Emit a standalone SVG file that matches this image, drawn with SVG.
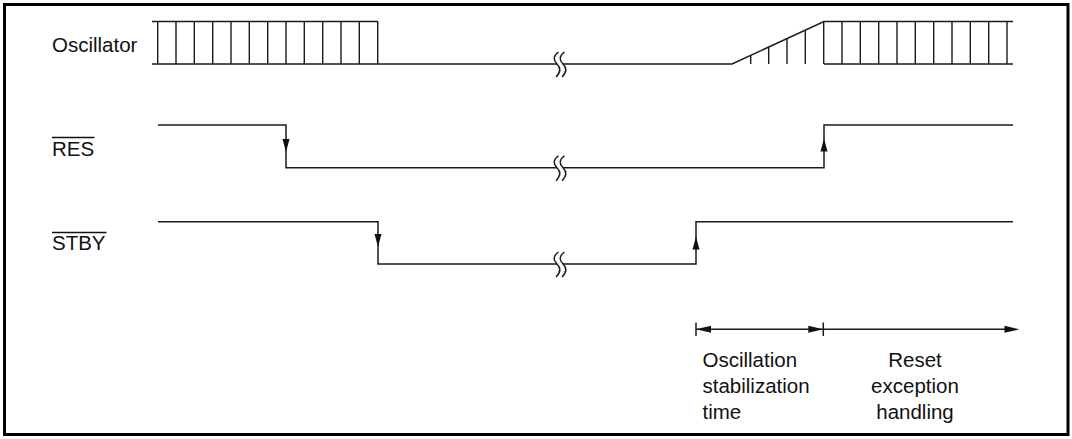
<svg xmlns="http://www.w3.org/2000/svg" width="1072" height="439" viewBox="0 0 1072 439">
<style>
.s{fill:none;stroke:#1a1a1a;stroke-width:1.5}
.v{fill:none;stroke:#1a1a1a;stroke-width:1.4}
.t{font-family:"Liberation Sans",Arial,sans-serif;font-size:20.5px;fill:#111}
.ah{fill:#111;stroke:none}
</style>
<defs>
<path id="sq" d="M 558.5,52 C 553,56 553,60 557,64 C 561,68 561,72 556,77" fill="none" stroke="#1a1a1a" stroke-width="1.4"/>
<path id="dn" d="M 0,0 L -3.5,-13 L 3.5,-13 Z"/>
</defs>
<rect x="4.5" y="4.5" width="1063.5" height="430" fill="#fff" stroke="#000" stroke-width="3"/>

<g id="labels">
<text class="t" x="52" y="51.5">Oscillator</text>
<text class="t" x="52" y="156">RES</text>
<line x1="52" y1="137.5" x2="94.5" y2="137.5" stroke="#111" stroke-width="1.3"/>
<text class="t" x="52" y="250">STBY</text>
<line x1="52" y1="232.5" x2="106.5" y2="232.5" stroke="#111" stroke-width="1.3"/>
</g>

<g id="oscillator">
<path class="s" d="M152,21.5 H378 M152,64 H557 M563,64 H732 L824,21.5 H1013 M824,64 H1013"/>
<path class="v" d="M157.7,21.5V64 M176,21.5V64 M194.3,21.5V64 M212.7,21.5V64 M231,21.5V64 M249.3,21.5V64 M267.7,21.5V64 M286,21.5V64 M304.3,21.5V64 M322.7,21.5V64 M341,21.5V64 M359.3,21.5V64 M377.7,21.5V64"/>
<path class="v" d="M750.7,55.3V64 M768.7,46.9V64 M787,38.4V64 M805.3,29.9V64"/>
<path class="v" d="M823.7,21.5V64 M842,21.5V64 M860.3,21.5V64 M878.7,21.5V64 M897,21.5V64 M915.3,21.5V64 M933.7,21.5V64 M952,21.5V64 M970.3,21.5V64 M988.7,21.5V64 M1007,21.5V64"/>
<use href="#sq"/>
<use href="#sq" x="6"/>
</g>

<g id="res">
<path class="s" d="M158,125 H286 V167.7 H557 M563,167.7 H824 V125 H1013"/>
<use href="#dn" class="ah" x="286" y="152"/>
<use href="#dn" class="ah" transform="translate(824,138.5) rotate(180)"/>
<use href="#sq" y="103.7"/>
<use href="#sq" x="6" y="103.7"/>
</g>

<g id="stby">
<path class="s" d="M158,221.7 H378 V264 H557 M563,264 H696 V221.7 H1013"/>
<use href="#dn" class="ah" x="378" y="247"/>
<use href="#dn" class="ah" transform="translate(696,236.5) rotate(180)"/>
<use href="#sq" y="200"/>
<use href="#sq" x="6" y="200"/>
</g>

<g id="connectors">
<path class="s" d="M696,329.3 H1005 M696,322.5 V336 M823.3,322.5 V336"/>
<path class="ah" d="M696,329.3 L711,325.8 L711,332.8 Z"/>
<path class="ah" d="M823.3,329.3 L808.3,325.8 L808.3,332.8 Z"/>
<path class="ah" d="M1019.5,329.3 L1004.5,325.8 L1004.5,332.8 Z"/>
</g>

<g id="time-labels">
<text class="t" x="702.5" y="366.5">Oscillation</text>
<text class="t" x="702.5" y="393">stabilization</text>
<text class="t" x="702.5" y="419">time</text>
<text class="t" x="915" y="366.5" text-anchor="middle">Reset</text>
<text class="t" x="915" y="393" text-anchor="middle">exception</text>
<text class="t" x="915" y="419" text-anchor="middle">handling</text>
</g>
</svg>
